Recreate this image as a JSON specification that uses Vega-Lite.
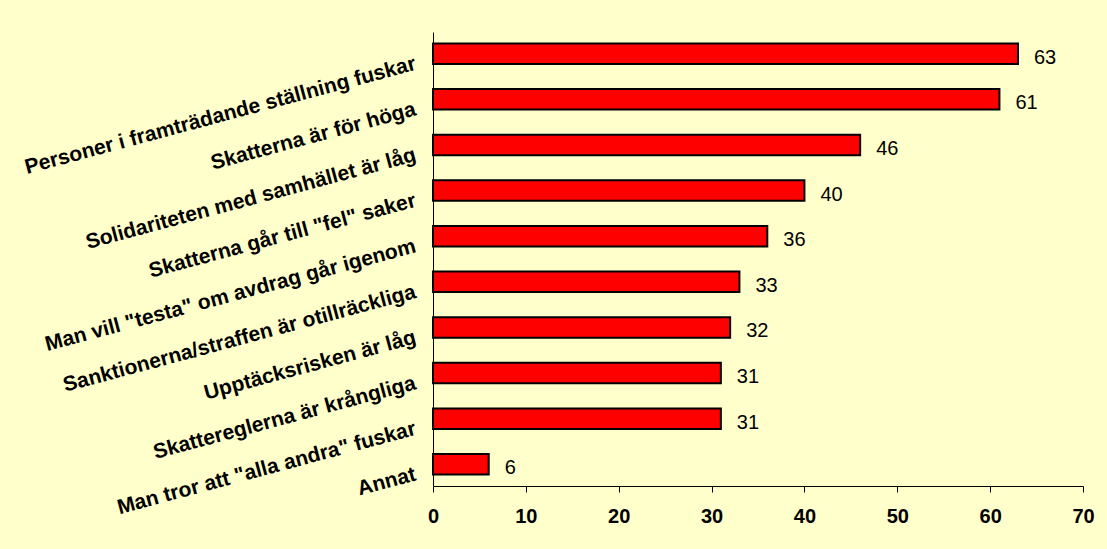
{
  "$schema": "https://vega.github.io/schema/vega-lite/v6.json",
  "width": 650,
  "height": 454,
  "autosize": "none",
  "padding": {"left": 433, "top": 32, "right": 24, "bottom": 63},
  "background": "#FFFFCC",
  "config": {"view": {"stroke": null}, "font": "Liberation Sans"},
  "data": {"values": [
    {"reason": "Personer i framträdande ställning fuskar", "value": 63},
    {"reason": "Skatterna är för höga", "value": 61},
    {"reason": "Solidariteten med samhället är låg", "value": 46},
    {"reason": "Skatterna går till \"fel\" saker", "value": 40},
    {"reason": "Man vill \"testa\" om avdrag går igenom", "value": 36},
    {"reason": "Sanktionerna/straffen är otillräckliga", "value": 33},
    {"reason": "Upptäcksrisken är låg", "value": 32},
    {"reason": "Skattereglerna är krångliga", "value": 31},
    {"reason": "Man tror att \"alla andra\" fuskar", "value": 31},
    {"reason": "Annat", "value": 6}
  ]},
  "encoding": {
    "y": {"field": "reason", "type": "nominal", "sort": null,
      "scale": {"paddingInner": 0.55, "paddingOuter": 0.25},
      "axis": {"title": null, "ticks": false, "labelAngle": -15, "labelAlign": "right", "labelBaseline": "middle",
        "labelFont": "Liberation Sans", "labelFontSize": 21, "labelFontWeight": "bold", "labelColor": "black",
        "labelPadding": 18, "labelOffset": 10, "labelLimit": 700, "labelOverlap": false, "domainColor": "black", "domainWidth": 1}},
    "x": {"field": "value", "type": "quantitative",
      "scale": {"domain": [0, 70], "nice": false},
      "axis": {"title": null, "values": [0,10,20,30,40,50,60,70], "grid": false,
        "labelFont": "Liberation Sans", "labelFontSize": 20, "labelFontWeight": "bold", "labelColor": "black",
        "labelPadding": 14, "tickColor": "black", "tickSize": 6, "domainColor": "black", "labelFlush": false}}
  },
  "layer": [
    {"mark": {"type": "bar", "color": "#FF0000", "stroke": "black", "strokeWidth": 2}},
    {"mark": {"type": "text", "align": "left", "baseline": "middle", "dx": 16, "dy": 4, "fontSize": 20, "font": "Liberation Sans", "color": "black"},
     "encoding": {"text": {"field": "value", "type": "quantitative"}}}
  ]
}
